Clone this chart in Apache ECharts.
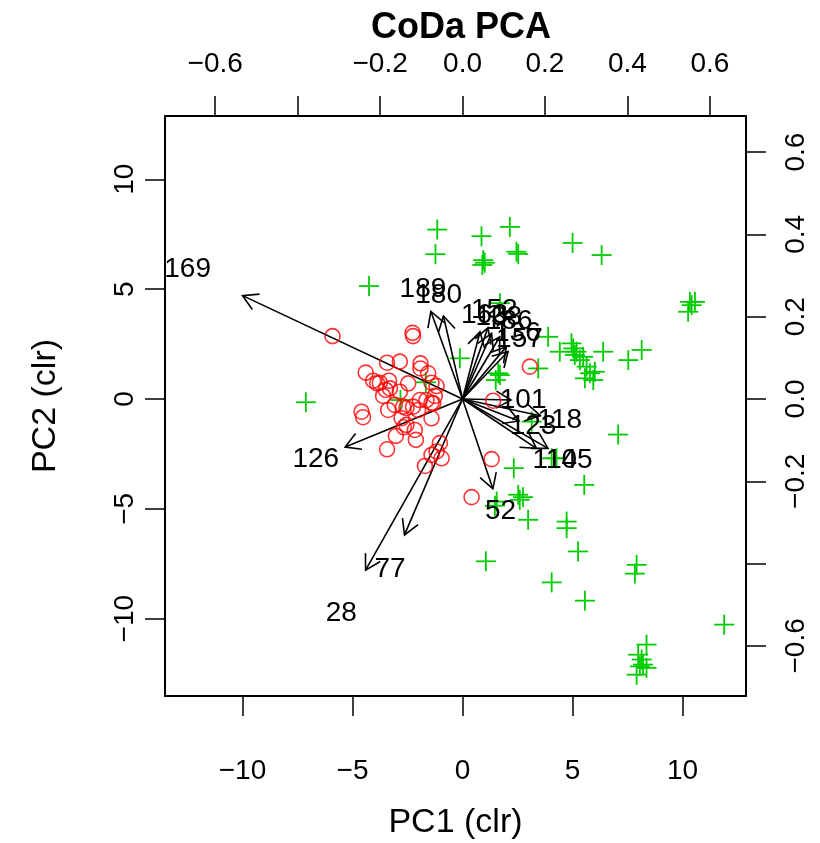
<!DOCTYPE html>
<html>
<head>
<meta charset="utf-8">
<title>CoDa PCA</title>
<script src="https://cdn.jsdelivr.net/npm/echarts@6.0.0/dist/echarts.min.js"></script>
<style>
    html, body { margin: 0; padding: 0; background: #fff; }
    #main { width: 820px; height: 843px; }
</style>
</head>
<body>
<div id="main"></div>
<script>
// observation scores (PC1, PC2) - first group, red circles
var groupRed = [
    [-5.91, 2.86], [-2.27, 3.01], [-2.25, 2.86], [-3.43, 1.65], [-2.85, 1.70], [-1.91, 1.62], [-1.91, 1.39], [-1.56, 1.17],
    [-4.40, 1.20], [-4.06, 0.83], [-3.88, 0.71], [-3.34, 0.83], [-2.47, 0.71], [-3.49, 0.41], [-3.61, 0.14], [-1.18, 0.59],
    [-1.26, 0.14], [-1.41, -0.17], [-1.94, -0.05], [-2.25, -0.35], [-2.02, -0.50], [-2.70, -0.35], [-3.08, -0.27], [-3.38, -0.50],
    [-4.59, -0.58], [-4.52, -0.83], [-2.77, -0.88], [-1.41, -0.88], [-2.55, -1.18], [-2.67, -1.29], [-2.17, -1.41], [-3.03, -1.68],
    [-2.12, -1.86], [-3.43, -2.29], [-1.03, -2.01], [-1.18, -2.39], [-0.95, -2.70], [-1.41, -2.55], [-1.71, -3.05], [1.32, -2.74],
    [1.39, -0.08], [-3.76, 0.74], [-1.41, 0.74], [-3.30, 0.48], [-2.85, 0.33], [-1.64, -0.05], [-1.33, -0.20], [-2.55, -0.42],
    [0.41, -4.47], [3.06, 1.47]
];
// second group, green crosses
var groupGreen = [
    [-1.15, 7.71], [-1.23, 6.59], [-4.25, 5.14], [-7.12, -0.15], [-0.12, 1.85], [-1.67, 0.76], [-2.82, -0.05], [0.86, 7.41],
    [2.15, 7.83], [0.94, 6.32], [1.01, 6.20], [0.90, 6.10], [2.45, 6.70], [2.53, 6.60], [5.00, 7.10], [6.32, 6.55],
    [10.33, 4.42], [10.56, 4.42], [10.25, 3.97], [10.41, 4.27], [1.70, 4.36], [3.89, 2.83], [4.42, 2.15], [4.95, 2.53],
    [5.03, 2.30], [5.18, 2.15], [5.10, 2.00], [5.48, 1.92], [5.33, 1.77], [5.64, 1.47], [5.56, 0.94], [5.79, 1.17],
    [6.01, 1.24], [5.94, 0.86], [6.39, 2.15], [7.53, 1.77], [8.14, 2.23], [3.44, 1.39], [1.62, 1.17], [1.51, 0.86],
    [1.70, 1.09], [3.14, -1.03], [7.07, -1.62], [4.05, -2.70], [4.27, -2.70], [2.33, -3.15], [5.53, -3.91], [2.53, -4.36],
    [2.75, -4.47], [2.60, -4.59], [1.55, -4.67], [1.47, -4.86], [2.98, -5.50], [4.73, -5.58], [4.73, -5.88], [5.25, -6.94],
    [1.06, -7.39], [4.05, -8.35], [5.56, -9.18], [7.91, -7.55], [7.83, -7.95], [11.89, -10.27], [8.36, -11.18], [7.98, -11.64],
    [8.14, -11.86], [8.20, -12.09], [8.36, -12.24], [8.06, -12.17], [7.91, -12.55]
];
// variable loadings, on the top/right scale (label position, arrow drawn to 0.8 of it)
var varNames = ['169', '126', '28', '77', '52', '189', '180', '152', '163', '138', '186', '136', '157', '101', '118', '123', '114', '105'];
var loadX = [-0.667, -0.356, -0.294, -0.176, 0.092, -0.096, -0.058, 0.077, 0.053, 0.088, 0.113, 0.133, 0.138, 0.147, 0.236, 0.171, 0.224, 0.259];
var loadY = [0.314, -0.146, -0.520, -0.413, -0.273, 0.266, 0.252, 0.216, 0.204, 0.199, 0.189, 0.159, 0.144, -0.003, -0.051, -0.067, -0.150, -0.150];

var xTicks = [-10, -5, 0, 5, 10];
var yTicks = [-10, -5, 0, 5, 10];
var topTicks = [-0.6, -0.4, -0.2, 0, 0.2, 0.4, 0.6];
var topLabels = [-0.6, -0.2, 0, 0.2, 0.4, 0.6];

var lim = [-13.52, 12.88];
var secScale = 18.73;
var font = "'Liberation Sans', Arial, Helvetica, sans-serif";

function minus(s) {
    return String(s).replace('-', '\u2212');
}

function baseAxis(pos, min, max, ticks, labels, dec) {
    return {
        type: 'value',
        position: pos,
        min: min,
        max: max,
        scale: true,
        splitLine: {show: false},
        axisLine: {show: true, onZero: false, lineStyle: {color: '#000', width: 2}},
        axisTick: {show: true, length: 20, customValues: ticks, lineStyle: {color: '#000', width: 1.5}},
        axisLabel: {
            show: true,
            customValues: labels,
            color: '#000',
            fontSize: 28,
            fontFamily: font,
            formatter: function (v) {
                return minus(dec ? v.toFixed(1) : Math.round(v));
            }
        }
    };
}

var xBottom = baseAxis('bottom', lim[0], lim[1], xTicks, xTicks, false);
xBottom.axisLabel.margin = 61;
xBottom.name = 'PC1 (clr)';
xBottom.nameLocation = 'middle';
xBottom.nameGap = 110;
xBottom.nameTextStyle = {fontSize: 34, fontFamily: font, color: '#000'};

var xTop = baseAxis('top', lim[0] / secScale, lim[1] / secScale, topTicks, topLabels, true);
xTop.axisLabel.margin = 38;

var yLeft = baseAxis('left', lim[0], lim[1], yTicks, yTicks, false);
yLeft.axisLabel.rotate = 90;
yLeft.axisLabel.margin = 26;
yLeft.name = 'PC2 (clr)';
yLeft.nameLocation = 'middle';
yLeft.nameGap = 102;
yLeft.nameTextStyle = {fontSize: 34, fontFamily: font, color: '#000'};

var yRight = baseAxis('right', lim[0] / secScale, lim[1] / secScale, topTicks, topLabels, true);
yRight.axisLabel.rotate = 90;
yRight.axisLabel.margin = 36;

var loadings = [];
for (var i = 0; i < varNames.length; i++) {
    loadings.push([loadX[i], loadY[i], varNames[i]]);
}

var myChart = echarts.init(document.getElementById('main'));
myChart.setOption({
    backgroundColor: '#fff',
    animation: false,
    title: {
        text: 'CoDa PCA',
        left: 456,
        top: 5,
        textAlign: 'center',
        textStyle: {fontSize: 36, fontWeight: 'bold', fontFamily: font, color: '#000'}
    },
    grid: {left: 165, right: 74, top: 116, bottom: 147, containLabel: false, outerBoundsMode: 'none'},
    xAxis: [xBottom, xTop],
    yAxis: [yLeft, yRight],
    series: [
        {
            type: 'scatter',
            xAxisIndex: 0,
            yAxisIndex: 0,
            symbol: 'circle',
            symbolSize: 15,
            itemStyle: {color: 'rgba(0,0,0,0)', borderColor: '#ff0000', borderWidth: 1.6},
            data: groupRed
        },
        {
            type: 'custom',
            xAxisIndex: 0,
            yAxisIndex: 0,
            data: groupGreen,
            renderItem: function (params, api) {
                var p = api.coord([api.value(0), api.value(1)]);
                var h = 10;
                return {
                    type: 'group',
                    children: [
                        {type: 'line', shape: {x1: p[0] - h, y1: p[1], x2: p[0] + h, y2: p[1]}, style: {stroke: '#00cd00', lineWidth: 1.8}},
                        {type: 'line', shape: {x1: p[0], y1: p[1] - h, x2: p[0], y2: p[1] + h}, style: {stroke: '#00cd00', lineWidth: 1.8}}
                    ]
                };
            }
        },
        {
            type: 'custom',
            xAxisIndex: 1,
            yAxisIndex: 1,
            clip: false,
            data: loadings,
            renderItem: function (params, api) {
                var lx = api.value(0), ly = api.value(1);
                var o = api.coord([0, 0]);
                var t = api.coord([lx * 0.8, ly * 0.8]);
                var l = api.coord([lx, ly]);
                var a = Math.atan2(t[1] - o[1], t[0] - o[0]);
                var len = 17, w = Math.PI / 6;
                var h1 = [t[0] - len * Math.cos(a - w), t[1] - len * Math.sin(a - w)];
                var h2 = [t[0] - len * Math.cos(a + w), t[1] - len * Math.sin(a + w)];
                return {
                    type: 'group',
                    children: [
                        {type: 'line', shape: {x1: o[0], y1: o[1], x2: t[0], y2: t[1]}, style: {stroke: '#000', lineWidth: 1.6}},
                        {type: 'polyline', shape: {points: [h1, t, h2]}, style: {stroke: '#000', lineWidth: 1.6, fill: null}},
                        {type: 'text', x: l[0], y: l[1], style: {text: api.value(2), fontSize: 28, fontFamily: font, fill: '#000', align: 'center', verticalAlign: 'middle'}}
                    ]
                };
            }
        }
    ]
});
</script>
</body>
</html>
